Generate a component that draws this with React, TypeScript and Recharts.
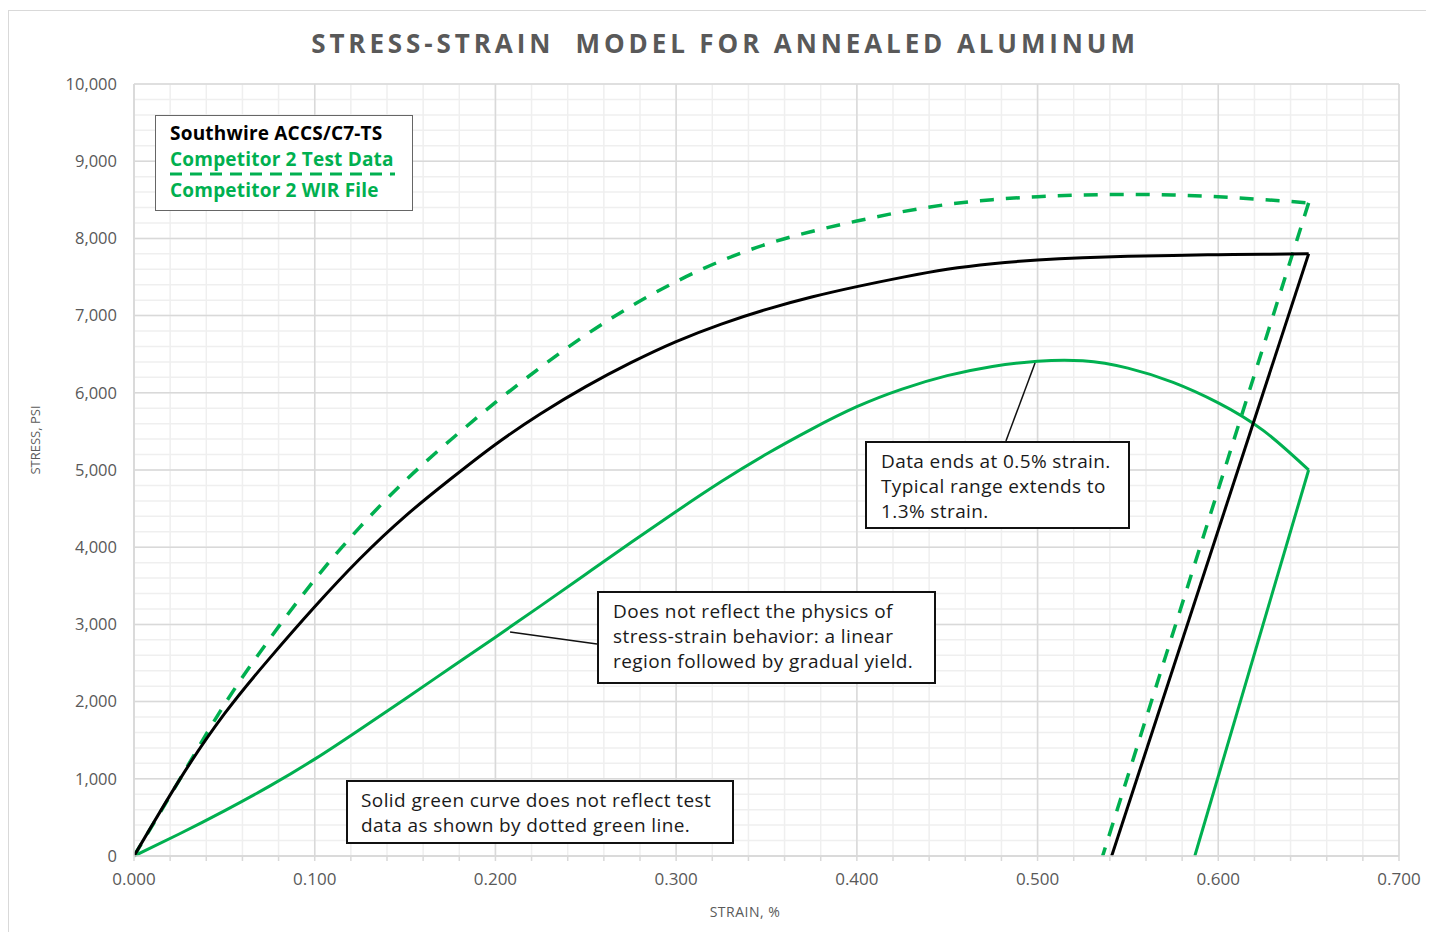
import { LineChart, Line, XAxis, YAxis, CartesianGrid, ReferenceLine } from 'recharts';

// loading curves are read at a common strain step
const strain = [
  0, 0.025, 0.05, 0.075, 0.1, 0.125, 0.15, 0.175, 0.2, 0.225, 0.25, 0.275, 0.3, 0.325,
  0.35, 0.375, 0.4, 0.425, 0.45, 0.475, 0.5, 0.525, 0.55, 0.575, 0.6, 0.625, 0.65,
];

// Southwire ACCS/C7-TS
const swStress = [
  0, 980, 1840, 2560, 3228, 3850, 4400, 4880, 5331, 5729, 6080, 6390, 6663, 6890,
  7080, 7240, 7375, 7495, 7600, 7672, 7720, 7750, 7768, 7780, 7789, 7795, 7800,
];
const swUnloadStrain = [0.65, 0.541];
const swUnloadStress = [7800, 0];

// Competitor 2 test data (dashed)
const testStress = [
  0, 980, 1960, 2810, 3580, 4260, 4860, 5385, 5875, 6330, 6750, 7120, 7440, 7710,
  7925, 8090, 8225, 8345, 8440, 8502, 8540, 8562, 8570, 8562, 8540, 8503, 8460,
];
const testUnloadStrain = [0.65, 0.536];
const testUnloadStress = [8460, 0];

// Competitor 2 WIR file
const wirStress = [
  0, 285, 585, 905, 1255, 1640, 2035, 2435, 2835, 3240, 3650, 4060, 4462, 4850,
  5207, 5530, 5820, 6048, 6222, 6342, 6410, 6415, 6320, 6135, 5870, 5510, 5000,
];
const wirUnloadStrain = [0.65, 0.587];
const wirUnloadStress = [5000, 0];

const xMajorTicks = [0, 0.1, 0.2, 0.3, 0.4, 0.5, 0.6, 0.7];
const yMajorTicks = [0, 1000, 2000, 3000, 4000, 5000, 6000, 7000, 8000, 9000, 10000];

// 5 minor divisions between major ticks (gridlines only)
const subdivide = (majors: number[]) => {
  const out: number[] = [];
  majors.forEach((m, i) => {
    if (i === majors.length - 1) { out.push(m); return; }
    const step = (majors[i + 1] - m) / 5;
    for (let k = 0; k < 5; k++) out.push(+(m + k * step).toFixed(4));
  });
  return out;
};
const xTicks = subdivide(xMajorTicks);
const yTicks = subdivide(yMajorTicks);

const zip = (xs: number[], ys: number[]) => xs.map((x, i) => ({ x, y: ys[i] }));

const GREEN = '#00b050';
const FONT = '"Open Sans", Arial, sans-serif';
const GRID_MAJOR = '#d9d9d9';
const GRID_MINOR = '#efefef';

const minorLine = (p: any) => (
  <line key={p.key} x1={p.x1} y1={p.y1} x2={p.x2} y2={p.y2} stroke={GRID_MINOR} strokeWidth={1.5} />
);
const majorLine = (p: any) =>
  p.index % 5 === 0 ? (
    <line key={p.key} x1={p.x1} y1={p.y1} x2={p.x2} y2={p.y2} stroke={GRID_MAJOR} strokeWidth={1.5} />
  ) : null;

const boxStyle: React.CSSProperties = {
  position: 'absolute',
  background: '#fff',
  border: '2px solid #111',
  boxSizing: 'border-box',
  fontFamily: FONT,
  fontSize: 19,
  letterSpacing: 0.4,
  lineHeight: '25px',
  color: '#1a1a1a',
  whiteSpace: 'nowrap',
};

export default function App() {
  return (
    <div style={{ position: 'relative', width: 1426, height: 922, marginTop: 2, fontFamily: FONT }}>
      <div style={{ position: 'absolute', left: 0, top: 0, width: 1424, height: 930, border: '1px solid #d9d9d9', boxSizing: 'border-box' }} />
      <div
        style={{
          position: 'absolute', left: 0, top: 15, width: 1434, textAlign: 'center',
          fontSize: 26, fontWeight: 700, letterSpacing: 3.9, color: '#595959', whiteSpace: 'pre',
        }}
      >
        STRESS-STRAIN  MODEL FOR ANNEALED ALUMINUM
      </div>

      <LineChart width={1426} height={920} margin={{ top: 74, right: 35, left: 66, bottom: 34 }} style={{ position: 'absolute', left: 0, top: 0 }}>
        <CartesianGrid vertical={minorLine} horizontal={minorLine} />
        <CartesianGrid vertical={majorLine} horizontal={majorLine} />
        <XAxis
          type="number"
          dataKey="x"
          domain={[0, 0.7]}
          ticks={xTicks}
          interval={0}
          allowDataOverflow
          height={40}
          axisLine={{ stroke: GRID_MAJOR, strokeWidth: 1.5 }}
          tickLine={{ stroke: GRID_MAJOR, strokeWidth: 1.5 }}
          tickSize={5}
          tickMargin={12}
          tick={{ fill: '#595959', fontSize: 17, fontFamily: FONT }}
          tickFormatter={(v: number, i: number) => (i % 5 === 0 ? v.toFixed(3) : '')}
        />
        <YAxis
          type="number"
          domain={[0, 10000]}
          ticks={yTicks}
          interval={0}
          width={60}
          axisLine={{ stroke: GRID_MAJOR, strokeWidth: 1.5 }}
          tickLine={false}
          tickSize={6}
          tickMargin={11}
          tick={{ fill: '#595959', fontSize: 16.5, fontFamily: FONT }}
          tickFormatter={(v: number, i: number) => (i % 5 === 0 ? v.toLocaleString('en-US') : '')}
        />

        <ReferenceLine segment={[{ x: 0.4825, y: 5376 }, { x: 0.4986, y: 6386 }]} stroke="#111" strokeWidth={1.5} />
        <ReferenceLine segment={[{ x: 0.2562, y: 2746 }, { x: 0.2081, y: 2902 }]} stroke="#111" strokeWidth={1.5} />

        <Line data={zip(strain, wirStress)} dataKey="y" type="natural" stroke={GREEN} strokeWidth={3} dot={false} activeDot={false} isAnimationActive={false} />
        <Line data={zip(wirUnloadStrain, wirUnloadStress)} dataKey="y" type="linear" stroke={GREEN} strokeWidth={3} dot={false} activeDot={false} isAnimationActive={false} />
        <Line data={zip(strain, testStress)} dataKey="y" type="natural" stroke={GREEN} strokeWidth={3.5} strokeDasharray="14 12" dot={false} activeDot={false} isAnimationActive={false} />
        <Line data={zip(testUnloadStrain, testUnloadStress)} dataKey="y" type="linear" stroke={GREEN} strokeWidth={3.5} strokeDasharray="14 12" dot={false} activeDot={false} isAnimationActive={false} />
        <Line data={zip(strain, swStress)} dataKey="y" type="natural" stroke="#000" strokeWidth={3} dot={false} activeDot={false} isAnimationActive={false} />
        <Line data={zip(swUnloadStrain, swUnloadStress)} dataKey="y" type="linear" stroke="#000" strokeWidth={3} dot={false} activeDot={false} isAnimationActive={false} />
      </LineChart>

      {/* axis titles */}
      <div style={{ position: 'absolute', left: 0, top: 892, width: 1474, textAlign: 'center', fontSize: 14, letterSpacing: 0.5, color: '#595959' }}>
        STRAIN, %
      </div>
      <div
        style={{
          position: 'absolute', left: 27, top: 430, transform: 'translate(-50%, -50%) rotate(-90deg)',
          fontSize: 13, color: '#595959', whiteSpace: 'nowrap',
        }}
      >
        STRESS, PSI
      </div>

      {/* legend */}
      <div style={{ ...boxStyle, left: 147, top: 105, width: 258, height: 96, border: '1.5px solid #666', fontWeight: 700, letterSpacing: 0.2 }}>
        <div style={{ position: 'absolute', left: 14, top: 5, color: '#000' }}>Southwire ACCS/C7-TS</div>
        <div style={{ position: 'absolute', left: 14, top: 31, color: GREEN }}>Competitor 2 Test Data</div>
        <svg style={{ position: 'absolute', left: 14, top: 55 }} width={225} height={6}>
          <line x1={0} y1={3} x2={225} y2={3} stroke={GREEN} strokeWidth={3} strokeDasharray="12 8" />
        </svg>
        <div style={{ position: 'absolute', left: 14, top: 62, color: GREEN }}>Competitor 2 WIR File</div>
      </div>

      {/* annotations */}
      <div style={{ ...boxStyle, left: 857, top: 431, width: 265, height: 88, padding: '6px 0 0 14px' }}>
        Data ends at 0.5% strain.
        <br />
        Typical range extends to
        <br />
        1.3% strain.
      </div>
      <div style={{ ...boxStyle, left: 589, top: 581, width: 339, height: 93, padding: '6px 0 0 14px' }}>
        Does not reflect the physics of
        <br />
        stress-strain behavior: a linear
        <br />
        region followed by gradual yield.
      </div>
      <div style={{ ...boxStyle, left: 338, top: 770, width: 388, height: 64, padding: '6px 0 0 13px' }}>
        Solid green curve does not reflect test
        <br />
        data as shown by dotted green line.
      </div>
    </div>
  );
}
